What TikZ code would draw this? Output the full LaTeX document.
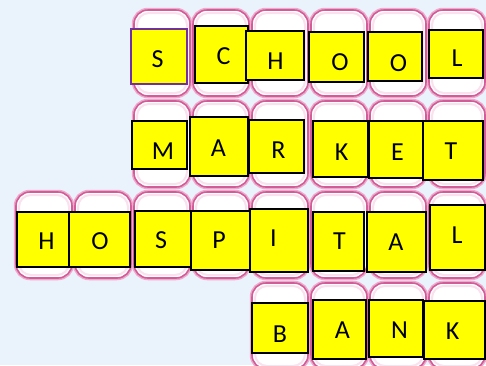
\documentclass[tikz,border=0pt]{standalone}
\usepackage{fontspec}
\setmainfont{Carlito}
\definecolor{bgc}{RGB}{234,243,251}
\definecolor{pinkline}{RGB}{210,92,152}
\definecolor{pinkglow}{RGB}{238,170,205}
\definecolor{pinkinner}{RGB}{250,225,238}
\definecolor{boxpurple}{RGB}{112,48,160}
\definecolor{ylw}{RGB}{255,255,0}
\tikzset{
  tileglow/.style={draw=pinkglow, line width=4.5pt, rounded corners=14pt, minimum width=56pt, minimum height=86pt, inner sep=0pt},
  tile/.style={draw=pinkline, fill=white, line width=1.6pt, rounded corners=14pt, minimum width=56pt, minimum height=86pt, inner sep=0pt},
  tileinner/.style={draw=pinkinner, line width=2pt, rounded corners=12pt, minimum width=50pt, minimum height=80pt, inner sep=0pt},
  ybox/.style={draw=black, fill=ylw, line width=1.2pt},
  pbox/.style={draw=boxpurple, fill=ylw, line width=1.2pt},
  letter/.style={inner sep=0pt, font=\fontsize{26}{26}\selectfont, text=black}
}
\begin{document}
\begin{tikzpicture}[x=1pt,y=-1pt]
\useasboundingbox (0,0) rectangle (486,365);
\clip (0,0) rectangle (486,365);
\fill[bgc] (0,0) rectangle (486,365);
% tiles
\foreach \r/\cy/\cols in {1/53/{2,3,4,5,6,7},2/144/{2,3,4,5,6,7},3/235/{0,1,2,3,4,5,6,7},4/326/{4,5,6,7}}{
  \foreach \c in \cols {
    \node[tileglow] (g\r\c) at ({44+59*\c},\cy) {};
  }
}
\foreach \r/\cy/\cols in {1/53/{2,3,4,5,6,7},2/144/{2,3,4,5,6,7},3/235/{0,1,2,3,4,5,6,7},4/326/{4,5,6,7}}{
  \foreach \c in \cols {
    \node[tile] (t\r\c) at ({44+59*\c},\cy) {};
    \node[tileinner] (i\r\c) at ({44+59*\c},\cy) {};
  }
}
% yellow boxes: name/x1/y1/x2/y2
\foreach \n/\a/\b/\cc/\d in {
  aC/195/26/248/83, aH/246/31/304/80, aO/309/32/364/82, aOb/368/32/422/81, aL/429/30/483/78,
  bM/132/121/187/169, bA/190/117/248/176, bR/249/120/304/173, bK/313/121/368/177, bE/369/121/423/178, bT/423/121/483/180,
  cH/17/212/69/267, cO/69/212/130/267, cS/135/211/191/267, cP/191/211/250/270, cI/250/209/308/272, cT/313/212/364/271, cA/367/212/426/272, cL/430/205/485/270,
  dB/252/303/308/353, dA/313/300/366/359, dN/369/300/423/357, dK/424/301/485/359}{
  \node[ybox, inner sep=0pt, minimum width={\cc-\a}, minimum height={\d-\b}] (box\n) at ({(\a+\cc)/2},{(\b+\d)/2}) {};
}
\node[pbox, inner sep=0pt, minimum width=56, minimum height=55] (boxaS) at (159,56.5) {};
% letters
\foreach \n/\x/\y/\t in {
  aS/157.5/59/S, aC/223.5/56/C, aH/275.5/61/H, aO/340/62.5/O, aOb/398.5/63/O, aL/457/58.5/L,
  bM/163/151/M, bA/218.5/148/A, bR/278.5/150/R, bK/341.5/152.5/K, bE/397.5/152.5/E, bT/451/151/T,
  cH/46.5/241.5/H, cO/100/241.5/O, cS/161/240/S, cP/219/240/P, cI/273.3/238/I, cT/339.5/241/T, cA/396/242/A, cL/457/235.5/L,
  dB/280/334/B, dA/342.5/330.5/A, dN/399.5/330.5/N, dK/452.5/331/K}{
  \node[letter] (l\n) at (\x,\y) {\t};
}
\end{tikzpicture}
\end{document}
